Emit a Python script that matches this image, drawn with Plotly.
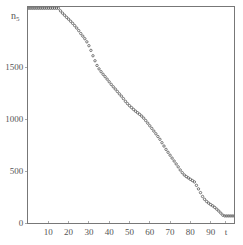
import plotly.graph_objects as go

t_values = list(range(0, 103))
n_values = [2065] * 16 + [
    2040, 2018, 1998, 1978, 1960, 1940, 1920, 1898, 1875, 1850,
    1822, 1797, 1772, 1742, 1705, 1660, 1608, 1560, 1515, 1482,
    1455, 1430, 1407, 1383, 1358, 1333, 1310, 1288, 1265, 1242,
    1220, 1196, 1170, 1148, 1128, 1110, 1092, 1075, 1060, 1045,
    1028, 1008, 985, 960, 935, 910, 884, 858, 832, 805,
    772, 740, 708, 680, 652, 624, 596, 568, 540, 510,
    484, 462, 446, 434, 420, 408, 395, 362, 328, 292,
    255, 228, 207, 191, 177, 165, 150, 133, 115, 95,
    75] + [68] * 6

x_ticks = [10, 20, 30, 40, 50, 60, 70, 80, 90]
x_tick_text = ["10", "20", "30", "40", "50", "60", "70", "80", "90"]
y_ticks = [0, 500, 1000, 1500]
x_label = "t"
y_label = "n<sub>5</sub>"

FAM = "Liberation Serif, Times New Roman, serif"
font = dict(family=FAM, size=9, color="#555555")

fig = go.Figure()
fig.add_trace(go.Scatter(
    x=t_values, y=n_values, mode="markers",
    marker=dict(symbol="circle-open", size=2.4, color="#444444", line=dict(width=0.7)),
    showlegend=False,
))

fig.update_layout(
    width=243, height=245,
    margin=dict(l=28, r=9, t=7, b=22, pad=0),
    paper_bgcolor="white", plot_bgcolor="white",
    font=font,
    xaxis=dict(range=[0, 101.5], tickvals=x_ticks + [97.5], ticktext=x_tick_text + [x_label],
               showgrid=False, zeroline=False, automargin=False,
               showline=True, mirror=True, linecolor="#777777", linewidth=1,
               ticks="inside", ticklen=2, tickcolor="#aaaaaa", tickfont=font),
    yaxis=dict(range=[0, 2077], tickvals=y_ticks, showgrid=False, zeroline=False,
               automargin=False,
               showline=True, mirror=True, linecolor="#777777", linewidth=1,
               ticks="outside", ticklen=2, tickcolor="#aaaaaa", tickfont=font),
    annotations=[
        dict(text=y_label, xref="paper", yref="paper", x=-0.03, y=0.995,
             xanchor="right", yanchor="top", showarrow=False,
             font=dict(family=FAM, size=10, color="#555555")),
    ],
)

fig.write_html("out.html", config={"displayModeBar": False},
               post_script="document.body.style.margin='0';document.body.style.overflow='hidden';")
